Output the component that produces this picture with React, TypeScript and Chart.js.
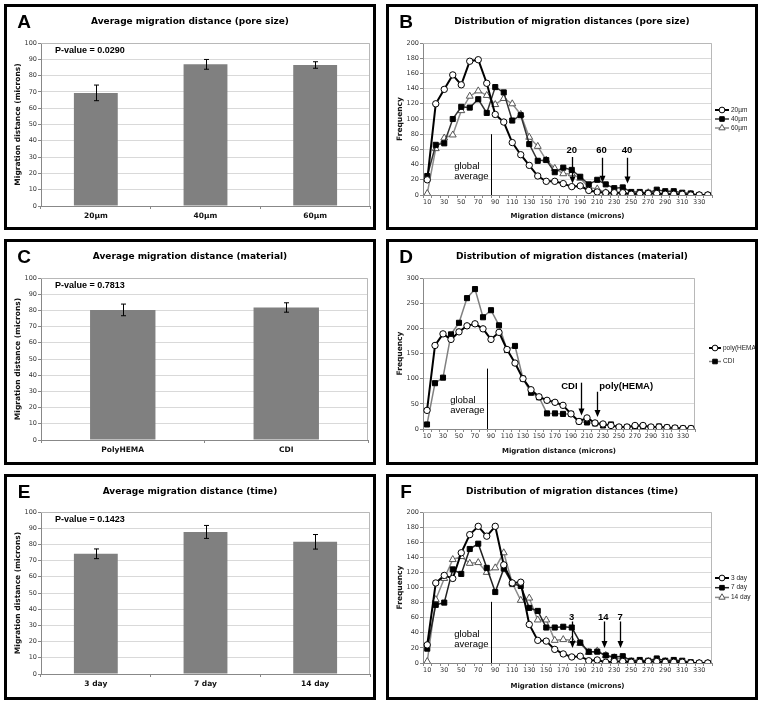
import React, { useEffect, useRef } from 'react';
import { Chart, registerables } from 'chart.js';
Chart.register(...registerables);

const FONT = '"DejaVu Sans", Verdana, sans-serif';
const ARIAL = '"Liberation Sans", Arial, sans-serif';

// ---------- data ----------
const distanceBins = [10, 20, 30, 40, 50, 60, 70, 80, 90, 100, 110, 120, 130, 140, 150, 160, 170, 180, 190, 200, 210, 220, 230, 240, 250, 260, 270, 280, 290, 300, 310, 320, 330, 340];

const poreLabels = ['20µm', '40µm', '60µm'];
const poreMeans = [69.4, 86.9, 86.5];
const poreErrors = [4.8, 3.0, 2.0];

const materialLabels = ['PolyHEMA', 'CDI'];
const materialMeans = [80.3, 81.8];
const materialErrors = [3.6, 2.9];

const timeLabels = ['3 day', '7 day', '14 day'];
const timeMeans = [74.2, 87.7, 81.6];
const timeErrors = [3.0, 4.0, 4.5];

const pore20 = [20, 120, 139, 158, 145, 176, 178, 147, 106, 96, 69, 53, 39, 25, 18, 18, 15, 11, 12, 6, 4, 3, 3, 3, 1, 2, 2, 2, 1, 1, 1, 0, 0, 0];
const pore40 = [25, 66, 68, 100, 116, 115, 126, 108, 142, 135, 98, 105, 67, 45, 46, 30, 36, 33, 24, 14, 20, 14, 9, 10, 4, 4, 3, 7, 5, 5, 3, 2, 0, 0];
const pore60 = [2, 61, 75, 79, 111, 130, 137, 131, 119, 127, 120, 106, 76, 64, 46, 35, 28, 28, 22, 10, 8, 3, 3, 3, 1, 1, 3, 3, 2, 2, 0, 1, 0, 0];

const matPolyHema = [37, 166, 189, 178, 193, 205, 209, 199, 178, 192, 158, 131, 100, 78, 64, 57, 53, 47, 30, 15, 22, 12, 10, 7, 4, 4, 7, 7, 4, 4, 3, 2, 1, 1];
const matCdi = [9, 91, 102, 188, 211, 260, 278, 222, 236, 206, 157, 165, 100, 72, 63, 31, 31, 30, 30, 15, 13, 11, 7, 9, 3, 4, 4, 6, 3, 5, 3, 2, 1, 1];

const time3 = [24, 106, 116, 112, 146, 170, 181, 168, 181, 130, 106, 107, 51, 30, 29, 18, 12, 8, 9, 3, 4, 1, 2, 2, 1, 1, 2, 2, 1, 1, 1, 0, 0, 0];
const time7 = [19, 77, 80, 124, 118, 151, 158, 126, 94, 125, 105, 102, 73, 69, 47, 47, 48, 47, 27, 15, 15, 10, 8, 9, 3, 4, 3, 6, 3, 4, 3, 1, 0, 0];
const time14 = [2, 84, 112, 137, 141, 132, 133, 120, 126, 146, 106, 83, 86, 57, 57, 30, 31, 30, 26, 14, 16, 10, 7, 5, 2, 2, 2, 3, 2, 2, 0, 0, 0, 0];

// annotations (data coordinates: microns / frequency)
const poreArrows = [
  { label: '20', x: 180, labelX: 180, labelY: 59, from: 50, to: 15 },
  { label: '60', x: 215, labelX: 215, labelY: 59, from: 49, to: 16 },
  { label: '40', x: 245, labelX: 245, labelY: 59, from: 49, to: 15 },
];
const materialArrows = [
  { label: 'CDI', x: 202, labelX: 188, labelY: 84, from: 92, to: 27 },
  { label: 'poly(HEMA)', x: 222, labelX: 259, labelY: 84, from: 74, to: 24 },
];
const timeArrows = [
  { label: '3', x: 180, labelX: 180, labelY: 61, from: 55, to: 20 },
  { label: '14', x: 218, labelX: 217, labelY: 61, from: 55, to: 20 },
  { label: '7', x: 237, labelX: 237, labelY: 61, from: 55, to: 20 },
];
const poreGlobal = { x: 85, top: 80, y1: 38, y2: 25 };
const materialGlobal = { x: 85, top: 120, y1: 57, y2: 37 };
const timeGlobal = { x: 85, top: 81, y1: 38, y2: 25 };

// ---------- plugins ----------
const topRightBorder = {
  id: 'topRightBorder',
  beforeDatasetsDraw(chart: any) {
    const { ctx, chartArea: a } = chart;
    ctx.save();
    ctx.strokeStyle = '#b8b8b8';
    ctx.lineWidth = 1;
    ctx.beginPath();
    ctx.moveTo(a.left, Math.round(a.top) + 0.5);
    ctx.lineTo(Math.round(a.right) - 0.5, Math.round(a.top) + 0.5);
    ctx.lineTo(Math.round(a.right) - 0.5, a.bottom);
    ctx.stroke();
    ctx.restore();
  },
};

const errorBarsPlugin = (means: number[], errors: number[]) => ({
  id: 'errorBars',
  afterDatasetsDraw(chart: any) {
    const { ctx } = chart;
    const y = chart.scales.y;
    const meta = chart.getDatasetMeta(0);
    ctx.save();
    ctx.strokeStyle = '#000';
    ctx.lineWidth = 1;
    meta.data.forEach((bar: any, i: number) => {
      const x = Math.round(bar.x) + 0.5;
      const yt = y.getPixelForValue(means[i] + errors[i]);
      const yb = y.getPixelForValue(means[i] - errors[i]);
      ctx.beginPath();
      ctx.moveTo(x, yt);
      ctx.lineTo(x, yb);
      ctx.moveTo(x - 2.5, yt);
      ctx.lineTo(x + 2.5, yt);
      ctx.moveTo(x - 2.5, yb);
      ctx.lineTo(x + 2.5, yb);
      ctx.stroke();
    });
    ctx.restore();
  },
});

const pValuePlugin = (text: string) => ({
  id: 'pValue',
  afterDatasetsDraw(chart: any) {
    const { ctx, chartArea: a } = chart;
    ctx.save();
    ctx.font = `bold 9px ${ARIAL}`;
    ctx.fillStyle = '#000';
    ctx.textAlign = 'left';
    ctx.textBaseline = 'middle';
    ctx.fillText(text, a.left + 14, a.top + 8);
    ctx.restore();
  },
});

type ArrowNote = { label: string; x: number; labelX: number; labelY: number; from: number; to: number };
type GlobalNote = { x: number; top: number; y1: number; y2: number };

const notesPlugin = (arrows: ArrowNote[], g: GlobalNote) => ({
  id: 'notes',
  afterDatasetsDraw(chart: any) {
    const { ctx } = chart;
    const xs = chart.scales.x;
    const ys = chart.scales.y;
    const px = (v: number) => xs.getPixelForValue((v - distanceBins[0]) / 10);
    ctx.save();
    const gx = Math.round(px(g.x)) + 0.5;
    ctx.strokeStyle = '#000';
    ctx.lineWidth = 1;
    ctx.beginPath();
    ctx.moveTo(gx, ys.getPixelForValue(g.top));
    ctx.lineTo(gx, ys.getPixelForValue(0));
    ctx.stroke();
    ctx.font = `9.5px ${ARIAL}`;
    ctx.fillStyle = '#000';
    ctx.textBaseline = 'middle';
    ctx.textAlign = 'left';
    const w = ctx.measureText('average').width;
    const tx = gx - 3 - w;
    ctx.fillText('global', tx, ys.getPixelForValue(g.y1));
    ctx.fillText('average', tx, ys.getPixelForValue(g.y2));
    ctx.font = `bold 9.5px ${ARIAL}`;
    ctx.textAlign = 'center';
    arrows.forEach((a) => {
      ctx.fillText(a.label, px(a.labelX), ys.getPixelForValue(a.labelY));
      const ax = Math.round(px(a.x)) + 0.5;
      const y0 = ys.getPixelForValue(a.from);
      const y1 = ys.getPixelForValue(a.to);
      ctx.lineWidth = 1.3;
      ctx.beginPath();
      ctx.moveTo(ax, y0);
      ctx.lineTo(ax, y1 - 5);
      ctx.stroke();
      ctx.beginPath();
      ctx.moveTo(ax - 3, y1 - 7);
      ctx.lineTo(ax + 3, y1 - 7);
      ctx.lineTo(ax, y1);
      ctx.closePath();
      ctx.fill();
    });
    ctx.restore();
  },
});

function drawMarker(ctx: CanvasRenderingContext2D, style: string, x: number, y: number, r: number, fill: string, stroke: string) {
  ctx.fillStyle = fill;
  ctx.strokeStyle = stroke;
  ctx.lineWidth = 1;
  ctx.beginPath();
  if (style === 'circle') {
    ctx.arc(x, y, r, 0, Math.PI * 2);
  } else if (style === 'rect') {
    const s = r * Math.SQRT1_2;
    ctx.rect(x - s, y - s, 2 * s, 2 * s);
  } else {
    ctx.moveTo(x, y - r);
    ctx.lineTo(x + r * 0.87, y + r * 0.5);
    ctx.lineTo(x - r * 0.87, y + r * 0.5);
    ctx.closePath();
  }
  ctx.fill();
  ctx.stroke();
}

const legendPlugin = (x0: number, y0: number, gap: number, lineLen: number) => ({
  id: 'sideLegend',
  afterDraw(chart: any) {
    const { ctx } = chart;
    ctx.save();
    chart.data.datasets.forEach((ds: any, i: number) => {
      const y = y0 + i * gap;
      ctx.strokeStyle = ds.borderColor;
      ctx.lineWidth = ds.borderWidth;
      ctx.beginPath();
      ctx.moveTo(x0, y);
      ctx.lineTo(x0 + lineLen, y);
      ctx.stroke();
      drawMarker(ctx, ds.pointStyle, x0 + lineLen / 2, y, ds.pointRadius * 0.9, ds.pointBackgroundColor, ds.pointBorderColor);
      ctx.font = `6.5px ${ARIAL}`;
      ctx.fillStyle = '#222';
      ctx.textAlign = 'left';
      ctx.textBaseline = 'middle';
      ctx.fillText(ds.label, x0 + lineLen + 2, y);
    });
    ctx.restore();
  },
});

// ---------- configs ----------
type Pad = { right: number; top: number; xHeight: number };

function barConfig(labels: string[], means: number[], errors: number[], pText: string, pad: Pad) {
  return {
    type: 'bar',
    data: {
      labels,
      datasets: [{ data: means, backgroundColor: '#808080', borderWidth: 0, barPercentage: 0.4, categoryPercentage: 1 }],
    },
    options: {
      animation: false,
      responsive: false,
      devicePixelRatio: 1,
      layout: { padding: { left: 0, right: pad.right, top: pad.top, bottom: 0 } },
      plugins: { legend: { display: false }, tooltip: { enabled: false } },
      scales: {
        x: {
          grid: { display: true, drawOnChartArea: false, tickLength: 3, color: '#888', offset: true },
          border: { color: '#888' },
          ticks: { font: { family: FONT, size: 7.5, weight: 'bold' }, color: '#111', padding: 3, maxRotation: 0 },
          afterFit: (s: any) => { s.height = pad.xHeight; },
        },
        y: {
          min: 0,
          max: 100,
          ticks: { stepSize: 10, font: { family: FONT, size: 6.5 }, color: '#333', padding: 1 },
          grid: { color: '#d9d9d9', tickLength: 3, tickColor: '#888' },
          border: { color: '#888' },
          title: { display: true, text: 'Migration distance (microns)', font: { family: FONT, size: 7.5, weight: 'bold' }, color: '#111', padding: { top: 7, bottom: 0 } },
          afterFit: (s: any) => { s.width = 34; },
        },
      },
    },
    plugins: [topRightBorder, errorBarsPlugin(means, errors), pValuePlugin(pText)],
  };
}

type SeriesStyle = { label: string; data: number[]; line: string; width: number; shape: string; radius: number; fill: string; edge: string };

function lineConfig(series: SeriesStyle[], yMax: number, yStep: number, pad: Pad, arrows: ArrowNote[], g: GlobalNote, legend: number[]) {
  return {
    type: 'line',
    data: {
      labels: distanceBins.map(String),
      datasets: series.map((s) => ({
        label: s.label,
        data: s.data,
        borderColor: s.line,
        borderWidth: s.width,
        pointStyle: s.shape,
        pointRadius: s.radius,
        pointBackgroundColor: s.fill,
        pointBorderColor: s.edge,
        pointBorderWidth: 1,
        tension: 0,
        fill: false,
      })),
    },
    options: {
      animation: false,
      responsive: false,
      devicePixelRatio: 1,
      layout: { padding: { left: 0, right: pad.right, top: pad.top, bottom: 0 } },
      plugins: { legend: { display: false }, tooltip: { enabled: false } },
      scales: {
        x: {
          offset: true,
          grid: { display: true, drawOnChartArea: false, tickLength: 3, color: '#888', offset: true },
          border: { color: '#888' },
          ticks: {
            autoSkip: false,
            maxRotation: 0,
            font: { family: FONT, size: 6.5 },
            color: '#333',
            padding: 0,
            callback: (_v: any, i: number) => (i % 2 === 0 ? String(distanceBins[i]) : ''),
          },
          title: { display: true, text: 'Migration distance (microns)', font: { family: FONT, size: 7, weight: 'bold' }, color: '#111', padding: { top: 0, bottom: 7 } },
          afterFit: (s: any) => { s.height = pad.xHeight; },
        },
        y: {
          min: 0,
          max: yMax,
          ticks: { stepSize: yStep, font: { family: FONT, size: 6.5 }, color: '#333', padding: 1 },
          grid: { color: '#d9d9d9', tickLength: 3, tickColor: '#888' },
          border: { color: '#888' },
          title: { display: true, text: 'Frequency', font: { family: FONT, size: 7.5, weight: 'bold' }, color: '#111', padding: { top: 7, bottom: 0 } },
          afterFit: (s: any) => { s.width = 34; },
        },
      },
    },
    plugins: [topRightBorder, notesPlugin(arrows, g), legendPlugin(legend[0], legend[1], legend[2], legend[3])],
  };
}

// ---------- components ----------
function Panel({ left, top, letter, title, build }: { left: number; top: number; letter: string; title: string; build: () => any }) {
  const ref = useRef<HTMLCanvasElement>(null);
  useEffect(() => {
    const chart = new Chart(ref.current as HTMLCanvasElement, build());
    return () => chart.destroy();
  }, []);
  return (
    <div style={{ position: 'absolute', left, top, width: 372, height: 226, border: '3px solid #000', boxSizing: 'border-box', background: '#fff' }}>
      <canvas ref={ref} width={366} height={220} style={{ position: 'absolute', left: 0, top: 0, width: 366, height: 220 }} />
      <div style={{ position: 'absolute', left: 17, top: 14, transform: 'translate(-50%,-50%)', font: `bold 19px ${ARIAL}`, lineHeight: 1, color: '#000' }}>{letter}</div>
      <div style={{ position: 'absolute', left: 183, top: 14, transform: 'translate(-50%,-50%)', font: `bold 9px ${FONT}`, lineHeight: 1, whiteSpace: 'nowrap', color: '#000' }}>{title}</div>
    </div>
  );
}

const s20 = { line: '#000', width: 2, shape: 'circle', radius: 3.2, fill: '#fff', edge: '#000' };
const s40 = { line: '#333', width: 1.5, shape: 'rect', radius: 3.6, fill: '#000', edge: '#000' };
const s60 = { line: '#8c8c8c', width: 1.5, shape: 'triangle', radius: 4, fill: '#fff', edge: '#555' };

export default function App() {
  return (
    <div style={{ position: 'absolute', left: 0, top: 0, width: 764, height: 705, background: '#fff' }}>
      <Panel left={4} top={4} letter="A" title="Average migration distance (pore size)"
        build={() => barConfig(poreLabels, poreMeans, poreErrors, 'P-value = 0.0290', { right: 3, top: 36, xHeight: 21 })} />
      <Panel left={386} top={4} letter="B" title="Distribution of migration distances (pore size)"
        build={() => lineConfig([
          { label: '20µm', data: pore20, ...s20 },
          { label: '40µm', data: pore40, ...s40 },
          { label: '60µm', data: pore60, ...s60 },
        ], 200, 20, { right: 43, top: 36, xHeight: 32 }, poreArrows, poreGlobal, [326, 103, 9, 14])} />
      <Panel left={4} top={239} letter="C" title="Average migration distance (material)"
        build={() => barConfig(materialLabels, materialMeans, materialErrors, 'P-value = 0.7813', { right: 5, top: 36, xHeight: 22 })} />
      <Panel left={386} top={239} letter="D" title="Distribution of migration distances (material)"
        build={() => lineConfig([
          { label: 'poly(HEMA)', data: matPolyHema, ...s20 },
          { label: 'CDI', data: matCdi, ...s40, line: '#808080' },
        ], 300, 50, { right: 60, top: 36, xHeight: 33 }, materialArrows, materialGlobal, [320, 106, 13.5, 12])} />
      <Panel left={4} top={474} letter="E" title="Average migration distance (time)"
        build={() => barConfig(timeLabels, timeMeans, timeErrors, 'P-value = 0.1423', { right: 3, top: 35, xHeight: 23 })} />
      <Panel left={386} top={474} letter="F" title="Distribution of migration distances (time)"
        build={() => lineConfig([
          { label: '3 day', data: time3, ...s20 },
          { label: '7 day', data: time7, ...s40, line: '#222' },
          { label: '14 day', data: time14, ...s60 },
        ], 200, 20, { right: 43, top: 35, xHeight: 34 }, timeArrows, timeGlobal, [326, 101, 9.7, 14])} />
    </div>
  );
}
